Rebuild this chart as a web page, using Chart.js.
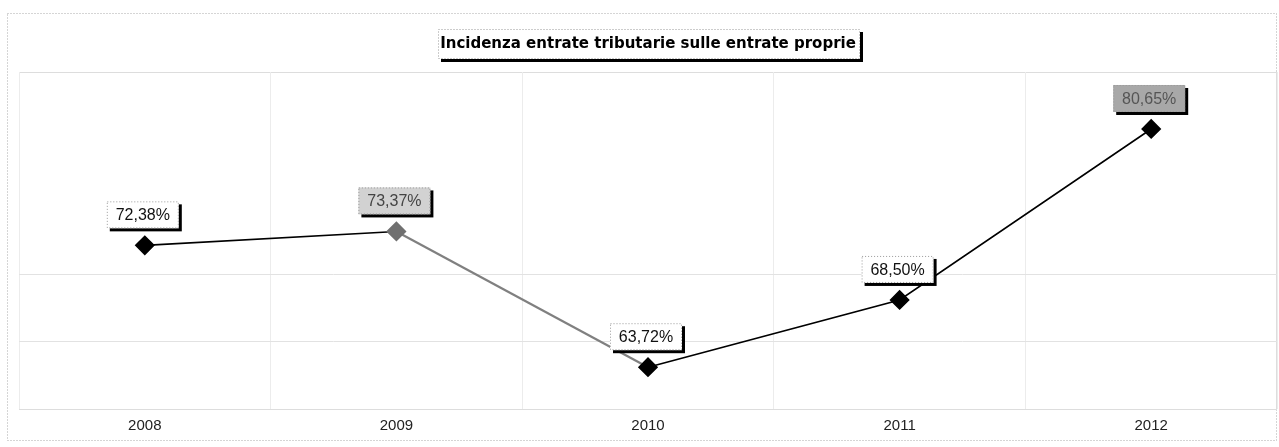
<!DOCTYPE html>
<html>
<head>
<meta charset="utf-8">
<script src="https://cdn.jsdelivr.net/npm/chart.js@4.4.0/dist/chart.umd.min.js"></script>
<style>
  html, body { margin: 0; padding: 0; background: #fff; }
  #wrap { width: 1279px; height: 447px; }
</style>
</head>
<body>
<div id="wrap"><canvas id="grafico" width="1279" height="447"></canvas></div>
<script>
// dati
const anni = ['2008', '2009', '2010', '2011', '2012'];
const incidenza = [72.38, 73.37, 63.72, 68.50, 80.65];
const etichette = ['72,38%', '73,37%', '63,72%', '68,50%', '80,65%'];

// stile delle etichette (sfondo / testo) come nella scansione
const sfondiEtichette = ['#ffffff', '#d2d2d2', '#ffffff', '#ffffff', '#a8a8a8'];
const coloriTesto = ['#111', '#444', '#111', '#111', '#555'];
const coloriPunti = ['#000', '#707070', '#000', '#000', '#000'];

const Y_MIN = 60.75, Y_MAX = 84.7, Y_PASSO = 4.79;

function boxOmbra(ctx, x, y, w, h, sfondo) {
  // ombra nera a destra e in basso
  ctx.fillStyle = '#000';
  ctx.fillRect(x + 3, y + 3, w, h);
  ctx.fillStyle = sfondo;
  ctx.fillRect(x, y, w, h);
  ctx.save();
  ctx.setLineDash([1, 2]);
  ctx.strokeStyle = '#999';
  ctx.lineWidth = 1;
  ctx.strokeRect(x + 0.5, y + 0.5, w - 1, h - 1);
  ctx.restore();
}

const cornice = {
  id: 'cornice',
  beforeDraw(chart) {
    const ctx = chart.ctx;
    const a = chart.chartArea;
    ctx.save();
    ctx.setLineDash([1, 2]);
    ctx.strokeStyle = '#aaa';
    ctx.lineWidth = 1;
    ctx.strokeRect(7.5, 13.5, 1269, 427);
    ctx.beginPath();
    ctx.moveTo(a.left, a.top + 0.5);
    ctx.lineTo(a.right, a.top + 0.5);
    ctx.stroke();
    ctx.setLineDash([]);
    ctx.strokeStyle = '#ddd';
    ctx.strokeRect(a.left + 0.5, a.top + 0.5, a.right - a.left - 1, a.bottom - a.top);
    ctx.restore();

    // riquadro del titolo
    const t = chart.titleBlock;
    const w = 422, h = 30;
    const cx = (t.left + t.right) / 2;
    const cy = t.top + t.options.padding.top + 9;
    boxOmbra(ctx, cx - w / 2 + 1, cy - h / 2, w, h, '#fff');
  }
};

const etichetteValori = {
  id: 'etichetteValori',
  afterDatasetsDraw(chart) {
    const ctx = chart.ctx;
    const meta = chart.getDatasetMeta(0);
    ctx.save();
    ctx.font = '16px "Liberation Sans", Arial, sans-serif';
    ctx.textAlign = 'center';
    ctx.textBaseline = 'middle';
    meta.data.forEach((p, i) => {
      const w = 72, h = 27;
      const x = p.x - w / 2 - 2;
      const y = p.y - 44;
      boxOmbra(ctx, x, y, w, h, sfondiEtichette[i]);
      ctx.fillStyle = coloriTesto[i];
      ctx.fillText(etichette[i], x + w / 2, y + h / 2 + 1);
    });
    ctx.restore();
  }
};

const ctx = document.getElementById('grafico').getContext('2d');
new Chart(ctx, {
  type: 'line',
  data: {
    labels: anni,
    datasets: [{
      label: 'Incidenza',
      data: incidenza,
      borderColor: '#000',
      borderWidth: 1.6,
      tension: 0,
      pointStyle: 'rectRot',
      pointRadius: 9,
      pointBackgroundColor: coloriPunti,
      pointBorderColor: coloriPunti,
      segment: {
        borderColor: c => c.p0DataIndex === 1 ? '#808080' : '#000',
        borderWidth: c => c.p0DataIndex === 1 ? 2.2 : 1.6
      }
    }]
  },
  options: {
    responsive: false,
    animation: false,
    layout: { autoPadding: false, padding: { left: 19, right: 2, top: 0, bottom: 4 } },
    plugins: {
      legend: { display: false },
      tooltip: { enabled: false },
      title: {
        display: true,
        text: 'Incidenza entrate tributarie sulle entrate proprie',
        color: '#000',
        font: { family: '"DejaVu Sans", Verdana, sans-serif', size: 15, weight: 'bold' },
        padding: { top: 35, bottom: 19 }
      }
    },
    scales: {
      x: {
        offset: true,
        grid: { offset: true, color: '#ececec', drawTicks: false },
        border: { display: false },
        ticks: {
          color: '#222',
          padding: 8,
          font: { family: '"Liberation Sans", Arial, sans-serif', size: 15 }
        }
      },
      y: {
        min: Y_MIN,
        max: Y_MAX,
        afterBuildTicks: scala => {
          const t = [];
          for (let v = Y_MIN; v <= Y_MAX + 0.01; v += Y_PASSO) t.push({ value: v });
          scala.ticks = t;
        },
        ticks: { display: false },
        border: { display: false },
        grid: {
          drawTicks: false,
          color: c => (c.index === 1 || c.index === 2) ? '#e2e2e2' : 'rgba(0,0,0,0)'
        }
      }
    }
  },
  plugins: [cornice, etichetteValori]
});
</script>
</body>
</html>
